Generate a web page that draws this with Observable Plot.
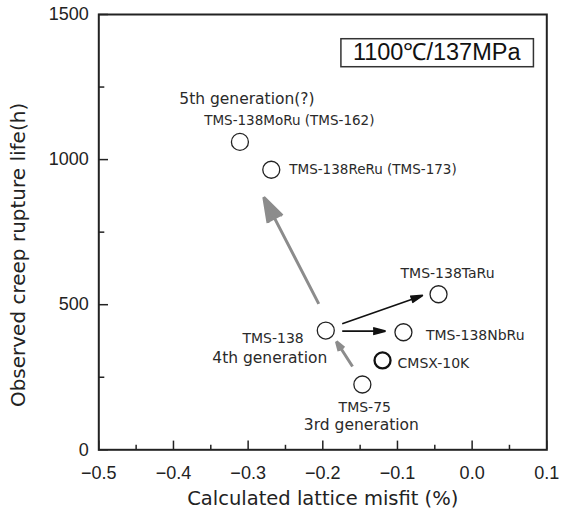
<!DOCTYPE html>
<html><head><meta charset="utf-8">
<script src="https://cdn.jsdelivr.net/npm/d3@7"></script>
<script src="https://cdn.jsdelivr.net/npm/@observablehq/plot@0.6"></script>
<style>body{margin:0;background:#fff} svg{display:block}</style>
</head><body><div id="chart"></div>
<script>
// ---- data ----
const alloys = ["TMS-138MoRu (TMS-162)", "TMS-138ReRu (TMS-173)", "TMS-138TaRu", "TMS-138", "TMS-138NbRu", "CMSX-10K", "TMS-75"];
const misfit = [-0.311, -0.269, -0.045, -0.196, -0.092, -0.120, -0.147]; // %
const life   = [1061, 965, 536, 411, 405, 308, 225];                      // h
const generationOf = ["TMS-138MoRu (TMS-162)", "TMS-138", "TMS-75"];
const generationText = ["5th generation(?)", "4th generation", "3rd generation"];
const condition = ["1100℃/137MPa"];

// arrows (start -> end) in data units
const arrowX1 = [-0.2054, -0.1602, -0.174, -0.174];
const arrowY1 = [503, 287, 434, 409];
const arrowX2 = [-0.279, -0.1817, -0.066, -0.116];
const arrowY2 = [870, 373, 532, 409];
const arrowKind = ["generation", "generation", "element", "element"];

const xTicks = [-0.5, -0.4, -0.3, -0.2, -0.1, 0.0, 0.1];
const xMinor = [-0.45, -0.35, -0.25, -0.15, -0.05, 0.05];
const yTicks = [0, 500, 1000, 1500];
const yMinor = [250, 750, 1250];
const xLabel = "Calculated lattice misfit (%)";
const yLabel = "Observed creep rupture life(h)";

// ---- tables ----
const pts = alloys.map((name, i) => ({name, x: misfit[i], y: life[i]}));
const pick = (...names) => pts.filter(d => names.includes(d.name));
const gens = generationOf.map((n, i) => ({...pts.find(d => d.name === n), gen: generationText[i]}));
const arrows = arrowX1.map((x1, i) => ({x1, y1: arrowY1[i], x2: arrowX2[i], y2: arrowY2[i], kind: arrowKind[i]}));

// ---- layout ----
const W = 563, H = 516, mL = 98.3, mR = 16.7, mT = 14, mB = 66.7;
const frameW = W - mL - mR, frameH = H - mT - mB;

const LBL = "'DejaVu Sans', sans-serif";
const NUM = "'Liberation Sans', Arial, sans-serif";
const ink = "#222";
const lab = (names, o) => Plot.text(pick(...names), {x: "x", y: "y", text: "name", fontFamily: LBL, fontSize: 14, fill: "#2a2a2a", ...o});
const gen = (i, o) => Plot.text([gens[i]], {x: "x", y: "y", text: "gen", fontFamily: LBL, fontSize: 15.5, fill: "#2a2a2a", ...o});

const plot = Plot.plot({
  width: W, height: H,
  marginLeft: mL, marginRight: mR, marginTop: mT, marginBottom: mB,
  x: {domain: [-0.5, 0.1]},
  y: {domain: [0, 1500]},
  style: {fontFamily: NUM, fontSize: "18px", color: ink, background: "white"},
  marks: [
    Plot.axisX(xTicks, {tickSize: 0, tickPadding: 16, tickFormat: d3.format(".1f"), label: null, fontSize: 18}),
    Plot.axisY(yTicks, {tickSize: 0, tickPadding: 10, tickFormat: d3.format("d"), label: null, fontSize: 18}),
    // inward ticks
    Plot.tickX(xTicks, {x: d => d, insetTop: frameH - 8.7, stroke: ink, strokeWidth: 1.5}),
    Plot.tickX(xMinor, {x: d => d, insetTop: frameH - 4.5, stroke: ink, strokeWidth: 1.5}),
    Plot.tickY(yTicks, {y: d => d, insetRight: frameW - 9.7, stroke: ink, strokeWidth: 1.5}),
    Plot.tickY(yMinor, {y: d => d, insetRight: frameW - 6, stroke: ink, strokeWidth: 1.5}),
    Plot.frame({stroke: ink, strokeWidth: 2}),
    Plot.text([xLabel], {frameAnchor: "bottom", text: d => d, dy: 49, lineAnchor: "middle", textAnchor: "middle", fontFamily: LBL, fontSize: 19.5, fill: ink}),
    Plot.text([yLabel], {frameAnchor: "left", text: d => d, rotate: -90, dx: -80, dy: 22.8, textAnchor: "middle", lineAnchor: "middle", fontFamily: LBL, fontSize: 20, fill: ink}),
    // arrows
    Plot.arrow(arrows.filter(d => d.kind === "generation"), {x1: "x1", y1: "y1", x2: "x2", y2: "y2", stroke: "#8c8c8c", fill: "#8c8c8c", strokeWidth: 3, headLength: 13, headAngle: 36, strokeLinecap: "butt"}),
    Plot.arrow(arrows.filter(d => d.kind === "element"), {x1: "x1", y1: "y1", x2: "x2", y2: "y2", stroke: "#111", fill: "#111", strokeWidth: 1.6, headLength: 12, headAngle: 30, strokeLinecap: "butt"}),
    // points
    Plot.dot(pts.filter(d => d.name !== "CMSX-10K"), {x: "x", y: "y", r: 8.5, stroke: ink, strokeWidth: 1.3, fill: "white"}),
    Plot.dot(pick("CMSX-10K"), {x: "x", y: "y", r: 8, stroke: "#111", strokeWidth: 2.3, fill: "white"}),
    // point labels
    lab(["TMS-138MoRu (TMS-162)"], {dx: 49.4, dy: -21.3, fontSize: 13.5}),
    lab(["TMS-138ReRu (TMS-173)"], {dx: 18, dy: 0, textAnchor: "start", fontSize: 13.5}),
    lab(["TMS-138TaRu"], {dx: 9, dy: -20.4}),
    lab(["TMS-138NbRu"], {dx: 22.5, dy: 3.3, textAnchor: "start"}),
    lab(["CMSX-10K"], {dx: 15, dy: 3.3, textAnchor: "start"}),
    lab(["TMS-138"], {dx: -52.7, dy: 8}),
    lab(["TMS-75"], {dx: 2.4, dy: 22.7}),
    gen(0, {dx: 7, dy: -43}),
    gen(1, {dx: -56, dy: 27.3}),
    gen(2, {dx: -1, dy: 41}),
    // condition label (box added below)
    Plot.text(condition, {frameAnchor: "top-right", text: d => d, textAnchor: "end", lineAnchor: "middle", dx: -26.3, dy: 37.7, fontFamily: NUM, fontSize: 23.5, fill: "#111"})
  ]
});
document.getElementById("chart").append(plot);

// frame around the condition label, sized from the rendered text
const t = Array.from(plot.querySelectorAll("text")).find(el => el.textContent === condition[0]);
if (t) {
  const b = t.getBBox();
  const rect = document.createElementNS("http://www.w3.org/2000/svg", "rect");
  rect.setAttribute("x", b.x - 12);
  rect.setAttribute("y", b.y);
  rect.setAttribute("width", b.width + 24);
  rect.setAttribute("height", b.height + 2);
  rect.setAttribute("fill", "none");
  rect.setAttribute("stroke", "#333");
  rect.setAttribute("stroke-width", 1.5);
  if (t.getAttribute("transform")) rect.setAttribute("transform", t.getAttribute("transform"));
  t.parentNode.insertBefore(rect, t);
}
</script>
</body></html>
